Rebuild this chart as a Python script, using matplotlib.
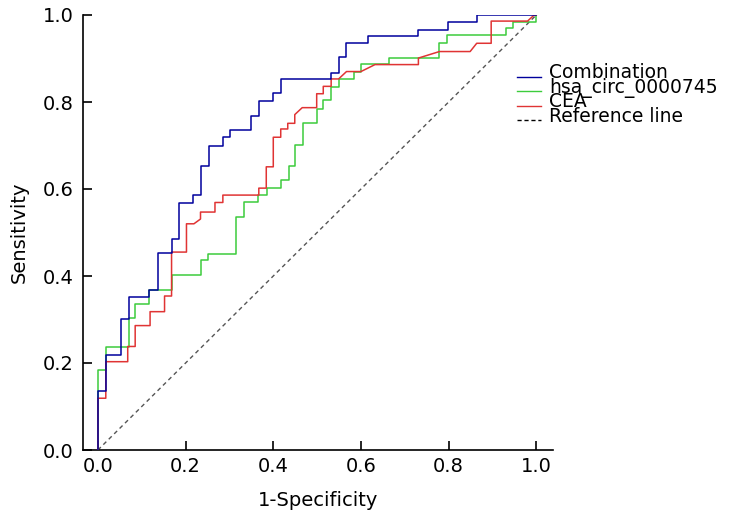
import matplotlib.pyplot as plt
from matplotlib.lines import Line2D

# ROC curves (1-specificity, sensitivity)
comb_fpr = [0, 0, 0.018, 0.018, 0.052, 0.052, 0.070, 0.070, 0.117, 0.117, 0.136, 0.136,
            0.168, 0.168, 0.184, 0.184, 0.218, 0.218, 0.234, 0.234, 0.253, 0.253, 0.285, 0.285,
            0.302, 0.302, 0.350, 0.350, 0.367, 0.367, 0.400, 0.400, 0.417, 0.417, 0.532, 0.532,
            0.549, 0.549, 0.565, 0.565, 0.617, 0.617, 0.731, 0.731, 0.798, 0.798, 0.864, 0.864, 1.0]
comb_tpr = [0, 0.135, 0.135, 0.218, 0.218, 0.302, 0.302, 0.352, 0.352, 0.368, 0.368, 0.453,
            0.453, 0.485, 0.485, 0.568, 0.568, 0.586, 0.586, 0.653, 0.653, 0.700, 0.700, 0.719,
            0.719, 0.736, 0.736, 0.767, 0.767, 0.802, 0.802, 0.820, 0.820, 0.852, 0.852, 0.867,
            0.867, 0.903, 0.903, 0.935, 0.935, 0.951, 0.951, 0.965, 0.965, 0.984, 0.984, 1.0, 1.0]

circ_fpr = [0, 0, 0.018, 0.018, 0.070, 0.070, 0.085, 0.085, 0.117, 0.117, 0.168, 0.168,
            0.234, 0.234, 0.250, 0.250, 0.316, 0.316, 0.334, 0.334, 0.366, 0.366, 0.385, 0.385,
            0.417, 0.417, 0.436, 0.436, 0.450, 0.450, 0.467, 0.467, 0.499, 0.499, 0.514, 0.514,
            0.532, 0.532, 0.549, 0.549, 0.583, 0.583, 0.600, 0.600, 0.665, 0.665, 0.779, 0.779,
            0.797, 0.797, 0.930, 0.930, 0.947, 0.947, 1.0, 1.0]
circ_tpr = [0, 0.184, 0.184, 0.236, 0.236, 0.303, 0.303, 0.336, 0.336, 0.368, 0.368, 0.402,
            0.402, 0.436, 0.436, 0.451, 0.451, 0.535, 0.535, 0.569, 0.569, 0.586, 0.586, 0.602,
            0.602, 0.620, 0.620, 0.652, 0.652, 0.702, 0.702, 0.752, 0.752, 0.784, 0.784, 0.805,
            0.805, 0.834, 0.834, 0.853, 0.853, 0.870, 0.870, 0.887, 0.887, 0.902, 0.902, 0.936,
            0.936, 0.953, 0.953, 0.969, 0.969, 0.985, 0.985, 1.0]

cea_fpr = [0, 0, 0.018, 0.018, 0.068, 0.068, 0.085, 0.085, 0.119, 0.119, 0.152, 0.152,
           0.168, 0.168, 0.202, 0.202, 0.219, 0.234, 0.234, 0.267, 0.267, 0.285, 0.285, 0.367,
           0.367, 0.384, 0.384, 0.400, 0.400, 0.417, 0.417, 0.433, 0.433, 0.449, 0.449, 0.466,
           0.499, 0.499, 0.514, 0.514, 0.532, 0.532, 0.549, 0.567, 0.600, 0.632, 0.731, 0.731,
           0.779, 0.849, 0.864, 0.897, 0.897, 0.980, 0.995, 1.0]
cea_tpr = [0, 0.119, 0.119, 0.203, 0.203, 0.238, 0.238, 0.286, 0.286, 0.318, 0.318, 0.354,
           0.354, 0.455, 0.455, 0.520, 0.520, 0.531, 0.547, 0.547, 0.569, 0.569, 0.586, 0.586,
           0.602, 0.602, 0.651, 0.651, 0.719, 0.719, 0.738, 0.738, 0.751, 0.751, 0.771, 0.787,
           0.787, 0.819, 0.819, 0.836, 0.836, 0.853, 0.853, 0.870, 0.870, 0.886, 0.886, 0.901,
           0.916, 0.916, 0.935, 0.935, 0.986, 0.986, 1.0, 1.0]

labels = ['Combination', 'hsa_circ_0000745', 'CEA', 'Reference line']
colors = ['#00009c', '#3ccc3c', '#e03434', '#555555']
ticks = [0.0, 0.2, 0.4, 0.6, 0.8, 1.0]

W, H = 731, 522
fig = plt.figure(figsize=(7.31, 5.22), dpi=100)
ax = fig.add_axes([83 / W, 1 - 450 / H, 470 / W, 435 / H])

ax.plot(comb_fpr, comb_tpr, color=colors[0], lw=1.1, zorder=4)
ax.plot(circ_fpr, circ_tpr, color=colors[1], lw=1.1, zorder=3)
ax.plot(cea_fpr, cea_tpr, color=colors[2], lw=1.1, zorder=3)
ax.plot([0, 1], [0, 1], color=colors[3], lw=1.0, ls=(0, (3, 2.5)), zorder=2)

ax.set_xlim(-0.034, 1.038)
ax.set_ylim(0, 1)
ax.set_xticks(ticks)
ax.set_yticks(ticks)
ax.set_xticklabels(['%.1f' % t for t in ticks])
ax.set_yticklabels(['%.1f' % t for t in ticks])
ax.spines['top'].set_visible(False)
ax.spines['right'].set_visible(False)
for s in ['left', 'bottom']:
    ax.spines[s].set_linewidth(1.2)
ax.tick_params(axis='both', direction='in', length=6.5, width=1.2, labelsize=14)
ax.tick_params(axis='x', pad=5)
ax.tick_params(axis='y', pad=7)

ax.set_xlabel('1-Specificity', fontsize=14, labelpad=11)
ax.set_ylabel('Sensitivity', fontsize=14, labelpad=10)

# legend drawn by hand: short lines sit on the text baseline, rows are tight
line_y = [77, 91, 105.5, 120]
text_y = [78, 92.5, 106.5, 121.5]
styles = ['-', '-', '-', (0, (3, 2))]
for i in range(len(labels)):
    c = 'black' if i == 3 else colors[i]
    fig.add_artist(Line2D([517 / W, 541 / W], [1 - line_y[i] / H] * 2,
                          transform=fig.transFigure, color=c, lw=1.0, ls=styles[i]))
    fig.text(549 / W, 1 - text_y[i] / H, labels[i], fontsize=13.5, va='baseline', ha='left')

fig.savefig('out.png', dpi=100)
